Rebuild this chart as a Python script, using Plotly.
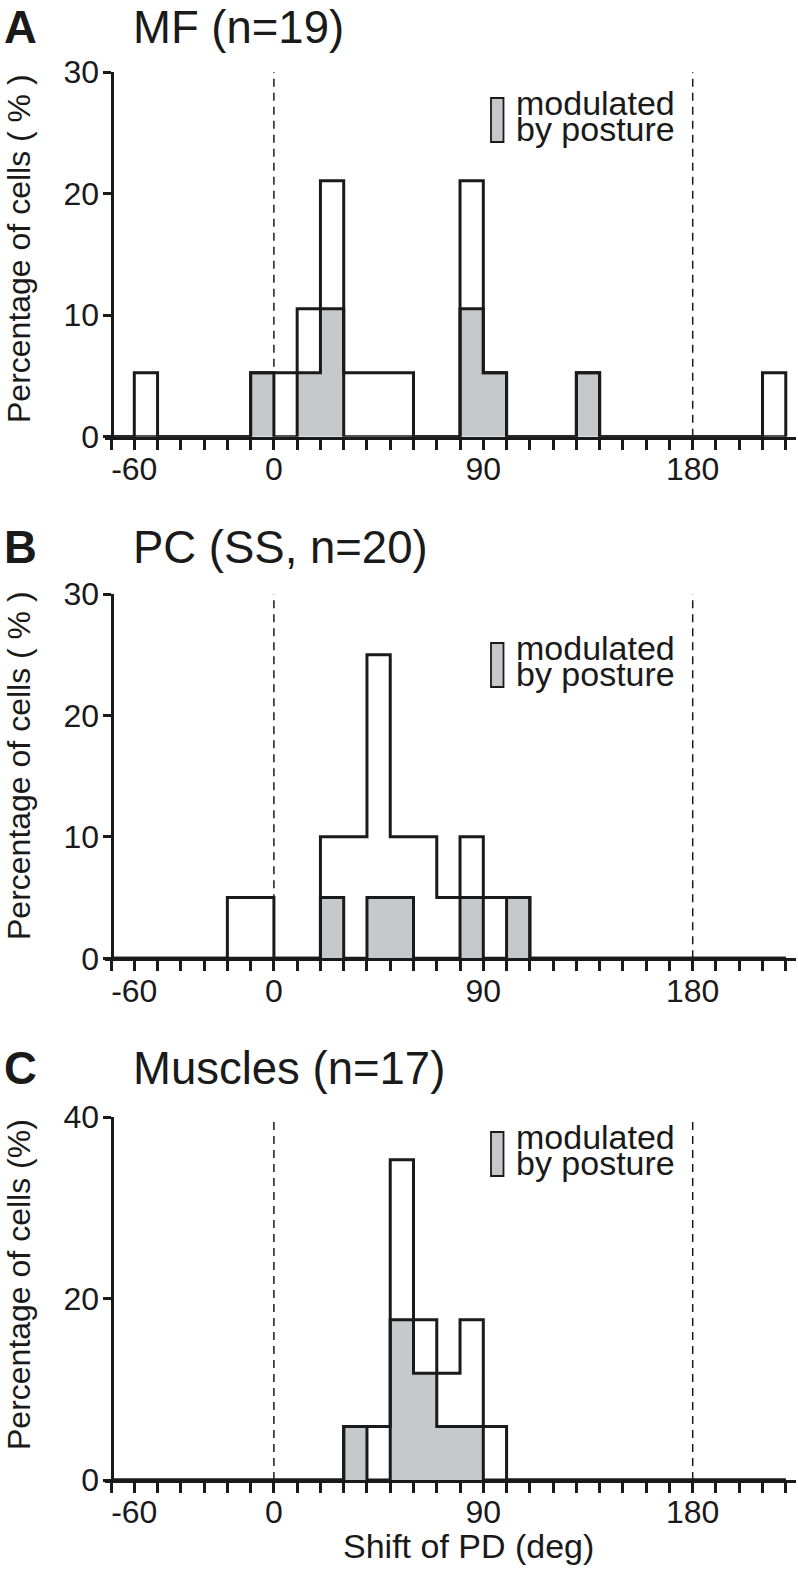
import plotly.graph_objects as go

# ---------------- data ----------------
BIN_WIDTH = 10
BIN_LEFT_EDGES = list(range(-70, 220, BIN_WIDTH))      # -70 ... 210
TICK_VALUES = list(range(-70, 230, BIN_WIDTH))          # minor ticks every 10 deg
TICK_LABELS = {-60: "-60", 0: "0", 90: "90", 180: "180"}
Y_TICKS_AB = [0, 10, 20, 30]
Y_TICKS_C = [0, 20, 40]
REF_LINES = [0, 180]

mf_bins = [-60, -10, 0, 10, 20, 30, 40, 50, 80, 90, 130, 210]
mf_all = [1, 1, 1, 2, 4, 1, 1, 1, 4, 1, 1, 1]
mf_posture = [0, 1, 0, 1, 2, 0, 0, 0, 2, 1, 1, 0]
mf_n = 19

pc_bins = [-20, -10, 20, 30, 40, 50, 60, 70, 80, 90, 100]
pc_all = [1, 1, 2, 2, 5, 2, 2, 1, 2, 1, 1]
pc_posture = [0, 0, 1, 0, 1, 1, 0, 0, 1, 0, 1]
pc_n = 20

mus_bins = [30, 40, 50, 60, 70, 80, 90]
mus_all = [1, 1, 6, 3, 2, 3, 1]
mus_posture = [1, 0, 3, 2, 1, 1, 0]
mus_n = 17

panel_letters = ["A", "B", "C"]
panel_titles = ["MF (n=19)", "PC (SS, n=20)", "Muscles (n=17)"]
y_titles = ["Percentage of cells ( % )", "Percentage of cells ( % )", "Percentage of cells (%)"]
legend_lines = ["modulated", "by posture"]
x_title = "Shift of PD (deg)"

# ---------------- styling ----------------
W, H = 798, 1569
FONT = "Liberation Sans, Arial, Helvetica, sans-serif"
GRAY = "#c7c8ca"
BLACK = "#1a1a1a"
TITLE_SIZE = 45.5
TEXT_SIZE = 34
TICK_SIZE = 32
YTITLE_SIZE = 32

def px_x(p):
    return p / W

def px_y(p):
    return 1 - p / H

# plot areas in pixels (top, bottom) for each panel
panels = [
    dict(bins=mf_bins, all=mf_all, post=mf_posture, n=mf_n, top=72, bot=436.7, ymax=30, yticks=Y_TICKS_AB,
         title_y=21, ytitle_y=249, leg_top=98),
    dict(bins=pc_bins, all=pc_all, post=pc_posture, n=pc_n, top=594, bot=958.3, ymax=30, yticks=Y_TICKS_AB,
         title_y=547, ytitle_y=766, leg_top=643),
    dict(bins=mus_bins, all=mus_all, post=mus_posture, n=mus_n, top=1117, bot=1480, ymax=40, yticks=Y_TICKS_C,
         title_y=1068, ytitle_y=1285, leg_top=1132),
]

X_RANGE = [-72.5, 224.5]
PX_PER_DEG = 2.3267
ZERO_PX = 273.9
x_left_px = ZERO_PX + X_RANGE[0] * PX_PER_DEG
x_right_px = ZERO_PX + X_RANGE[1] * PX_PER_DEG
yaxis_pos_px = ZERO_PX + (-70) * PX_PER_DEG + 0.5


def step_xy(bins, counts, n):
    dense = [0.0] * len(BIN_LEFT_EDGES)
    for b, c in zip(bins, counts):
        dense[BIN_LEFT_EDGES.index(b)] = c / n * 100.0
    xs = [BIN_LEFT_EDGES[0]] + BIN_LEFT_EDGES + [BIN_LEFT_EDGES[-1] + BIN_WIDTH]
    ys = [0.0] + dense + [0.0]
    return xs, ys


fig = go.Figure()
annotations = []
shapes = []

for i, p in enumerate(panels):
    k = "" if i == 0 else str(i + 1)
    xref, yref = "x" + k, "y" + k

    gx, gy = step_xy(p["bins"], p["post"], p["n"])
    fig.add_trace(go.Scatter(x=gx, y=gy, mode="lines", line=dict(shape="hv", color=BLACK, width=3),
                             fill="tozeroy", fillcolor=GRAY, xaxis=xref, yaxis=yref,
                             showlegend=False, hoverinfo="skip"))
    tx, ty = step_xy(p["bins"], p["all"], p["n"])
    fig.add_trace(go.Scatter(x=tx, y=ty, mode="lines", line=dict(shape="hv", color=BLACK, width=3),
                             xaxis=xref, yaxis=yref, showlegend=False, hoverinfo="skip"))

    xa = dict(domain=[px_x(x_left_px), px_x(x_right_px)], range=X_RANGE, anchor=yref,
              tickmode="array", tickvals=TICK_VALUES,
              ticktext=[TICK_LABELS.get(v, "") for v in TICK_VALUES],
              ticks="outside", ticklen=10, tickwidth=2.5, tickcolor=BLACK, ticklabelstandoff=-8,
              showline=True, linewidth=3, linecolor=BLACK, showgrid=False, zeroline=False,
              automargin=False,
              tickfont=dict(family=FONT, size=TICK_SIZE, color=BLACK))
    ya = dict(domain=[px_y(p["bot"]), px_y(p["top"])], range=[0, p["ymax"]], anchor="free",
              position=px_x(yaxis_pos_px), tickmode="array", tickvals=p["yticks"],
              ticks="outside", ticklen=8, tickwidth=2.5, tickcolor=BLACK, ticklabelstandoff=-3,
              showline=True, linewidth=3, linecolor=BLACK, showgrid=False, zeroline=False,
              automargin=False,
              tickfont=dict(family=FONT, size=TICK_SIZE, color=BLACK))
    fig.update_layout({"xaxis" + k: xa, "yaxis" + k: ya})

    for v in REF_LINES:
        shapes.append(dict(type="line", xref=xref, yref=yref, x0=v, x1=v, y0=0, y1=p["ymax"],
                           line=dict(color=BLACK, width=1.5, dash="8px,6px"), layer="below"))

    # panel letter and title
    if i == 0:
        ty_kw = dict(y=1.0, yanchor="top")
    else:
        ty_kw = dict(y=px_y(p["title_y"]), yanchor="middle")
    annotations.append(dict(text="<b>" + panel_letters[i] + "</b>", xref="paper", yref="paper",
                            x=px_x(2), xanchor="left", showarrow=False,
                            font=dict(family=FONT, size=TITLE_SIZE, color=BLACK), **ty_kw))
    annotations.append(dict(text=panel_titles[i], xref="paper", yref="paper",
                            x=px_x(131), xanchor="left", showarrow=False,
                            font=dict(family=FONT, size=TITLE_SIZE, color=BLACK), **ty_kw))
    # y title
    annotations.append(dict(text=y_titles[i], xref="paper", yref="paper", textangle=-90,
                            x=px_x(19), y=px_y(p["ytitle_y"]), xanchor="center", yanchor="middle",
                            showarrow=False, font=dict(family=FONT, size=YTITLE_SIZE, color=BLACK)))
    # legend patch + text
    lt = p["leg_top"]
    shapes.append(dict(type="rect", xref="paper", yref="paper", x0=px_x(491), x1=px_x(503.5),
                       y0=px_y(lt + 44), y1=px_y(lt), fillcolor=GRAY, line=dict(color=BLACK, width=1.8)))
    annotations.append(dict(text=legend_lines[0], xref="paper", yref="paper",
                            x=px_x(514), y=px_y(lt + 17 - 12), xanchor="left", yanchor="middle",
                            showarrow=False, font=dict(family=FONT, size=TEXT_SIZE, color=BLACK)))
    annotations.append(dict(text=legend_lines[1], xref="paper", yref="paper",
                            x=px_x(514), y=px_y(lt + 43 - 12), xanchor="left", yanchor="middle",
                            showarrow=False, font=dict(family=FONT, size=TEXT_SIZE, color=BLACK)))

annotations.append(dict(text=x_title, xref="paper", yref="paper",
                        x=px_x(468), y=px_y(1546), xanchor="center", yanchor="middle",
                        showarrow=False, font=dict(family=FONT, size=TEXT_SIZE, color=BLACK)))

fig.update_layout(template="none", width=W, height=H, margin=dict(l=0, r=0, t=0, b=0, pad=0),
                  paper_bgcolor="white", plot_bgcolor="white",
                  annotations=annotations, shapes=shapes, showlegend=False)

fig.write_html("out.html", config={"displayModeBar": False},
               post_script="document.body.style.margin='0';")
